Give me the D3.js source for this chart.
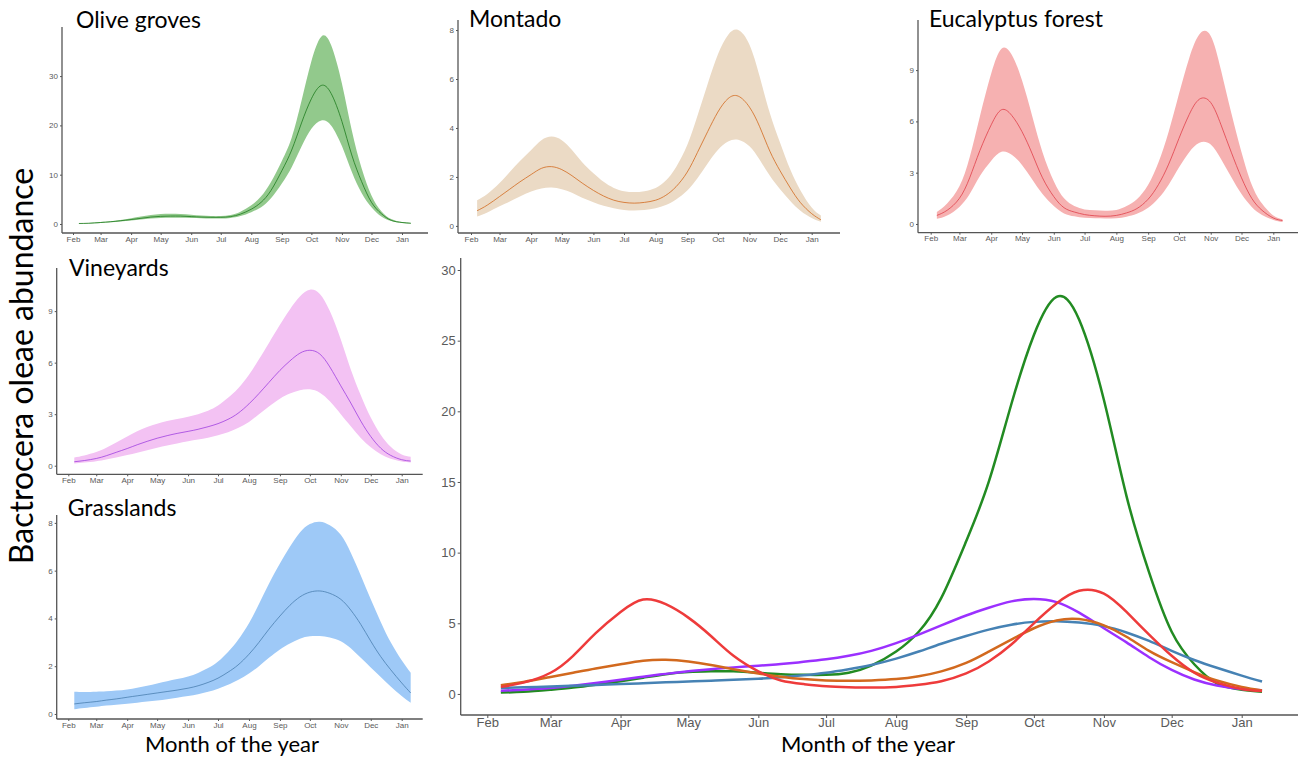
<!DOCTYPE html>
<html>
<head>
<meta charset="utf-8">
<script src="https://cdn.jsdelivr.net/npm/d3@7"></script>
<style>
  body { margin: 0; background: #fff; }
  svg { display: block; }
</style>
</head>
<body>
<div id="chart"></div>
<script>
// sample dates of the fitted curves (Feb -> Jan)
const dates = ["2019-02-07","2019-02-17","2019-03-01","2019-03-11","2019-03-21","2019-04-01","2019-04-11","2019-04-21",
  "2019-05-01","2019-05-11","2019-05-21","2019-06-01","2019-06-11","2019-06-21","2019-07-01","2019-07-11","2019-07-21",
  "2019-08-01","2019-08-11","2019-08-21","2019-09-01","2019-09-11","2019-09-21","2019-10-01","2019-10-11","2019-10-21",
  "2019-11-01","2019-11-11","2019-11-21","2019-12-01","2019-12-11","2019-12-21","2020-01-01","2020-01-10"];

const oliveMean = [0.1,0.15,0.3,0.45,0.65,0.9,1.15,1.4,1.55,1.6,1.6,1.5,1.4,1.35,1.35,1.5,2.0,3.0,4.4,6.8,10.8,15.0,20.5,25.4,28.1,26.5,20.8,14.0,8.6,4.4,2.1,0.75,0.3,0.15];
const oliveHigh = [0.15,0.2,0.38,0.55,0.8,1.15,1.5,1.8,2.0,2.05,2.0,1.85,1.7,1.6,1.6,1.8,2.5,3.8,5.6,8.5,12.8,17.5,25.0,33.0,38.0,36.3,28.5,19.0,11.3,5.8,2.6,1.0,0.4,0.2];
const oliveLow = [0.05,0.1,0.22,0.35,0.5,0.7,0.9,1.1,1.2,1.25,1.25,1.2,1.15,1.1,1.1,1.22,1.6,2.4,3.4,5.2,8.2,11.5,15.7,19.3,21.0,20.0,15.8,10.6,6.3,3.4,1.5,0.6,0.22,0.1];

const montadoMean = [0.62,0.85,1.2,1.5,1.8,2.1,2.35,2.42,2.3,2.05,1.75,1.45,1.22,1.05,0.96,0.93,0.96,1.05,1.25,1.6,2.2,3.0,3.85,4.65,5.2,5.3,4.85,4.05,3.05,2.25,1.55,0.95,0.5,0.25];
const montadoHigh = [1.05,1.3,1.75,2.2,2.65,3.1,3.5,3.65,3.5,3.1,2.6,2.15,1.8,1.55,1.42,1.38,1.42,1.55,1.85,2.4,3.3,4.5,5.8,7.0,7.8,8.0,7.4,6.1,4.6,3.4,2.3,1.45,0.75,0.42];
const montadoLow = [0.38,0.55,0.8,1.0,1.2,1.4,1.53,1.57,1.5,1.35,1.15,0.97,0.82,0.72,0.65,0.63,0.65,0.72,0.85,1.08,1.45,1.95,2.55,3.1,3.45,3.52,3.25,2.7,2.05,1.5,1.02,0.62,0.32,0.17];

const eucMean = [0.5,0.8,1.5,2.7,4.3,5.8,6.68,6.35,5.4,4.1,2.7,1.6,0.95,0.7,0.55,0.48,0.45,0.5,0.65,0.9,1.45,2.3,3.5,5.0,6.4,7.3,7.1,5.8,4.2,2.7,1.5,0.8,0.35,0.2];
const eucHigh = [0.7,1.2,2.2,3.9,6.3,8.8,10.25,9.9,8.4,6.3,4.2,2.5,1.5,1.05,0.85,0.8,0.78,0.82,1.05,1.45,2.3,3.6,5.4,7.6,9.7,11.1,11.0,9.0,6.5,4.2,2.3,1.2,0.5,0.28];
const eucLow = [0.3,0.5,1.0,1.75,2.8,3.7,4.22,4.05,3.45,2.6,1.75,1.05,0.62,0.45,0.36,0.33,0.32,0.34,0.43,0.6,0.95,1.5,2.3,3.3,4.2,4.75,4.65,3.8,2.75,1.75,1.0,0.53,0.24,0.12];

const vineMean = [0.23,0.3,0.42,0.58,0.78,1.0,1.22,1.42,1.6,1.75,1.88,2.0,2.12,2.27,2.45,2.7,3.05,3.6,4.2,4.85,5.55,6.1,6.55,6.72,6.5,5.75,4.65,3.65,2.6,1.7,1.02,0.6,0.35,0.27];
const vineHigh = [0.48,0.6,0.8,1.05,1.35,1.7,2.0,2.25,2.45,2.6,2.72,2.85,3.0,3.2,3.5,3.95,4.5,5.3,6.2,7.15,8.2,9.1,9.85,10.25,10.0,9.0,7.35,5.6,4.1,2.8,1.8,1.1,0.65,0.52];
const vineLow = [0.13,0.18,0.26,0.36,0.48,0.62,0.76,0.9,1.05,1.18,1.3,1.42,1.52,1.63,1.78,1.95,2.2,2.55,3.0,3.45,3.9,4.2,4.4,4.45,4.25,3.75,3.0,2.3,1.62,1.07,0.66,0.4,0.24,0.18];

const grassMean = [0.42,0.47,0.52,0.58,0.63,0.7,0.76,0.82,0.88,0.94,1.0,1.08,1.18,1.32,1.5,1.75,2.05,2.5,3.0,3.55,4.1,4.55,4.9,5.1,5.15,5.05,4.8,4.35,3.75,3.05,2.4,1.85,1.3,0.88];
const grassHigh = [0.93,0.92,0.93,0.95,0.98,1.03,1.1,1.18,1.28,1.37,1.46,1.57,1.72,1.92,2.2,2.6,3.1,3.8,4.6,5.45,6.3,7.0,7.6,7.95,8.05,7.9,7.5,6.75,5.8,4.8,3.85,3.0,2.25,1.73];
const grassLow = [0.2,0.25,0.3,0.35,0.39,0.43,0.47,0.52,0.56,0.62,0.68,0.75,0.83,0.93,1.06,1.22,1.42,1.7,2.0,2.35,2.7,2.95,3.15,3.25,3.26,3.2,3.05,2.75,2.35,1.95,1.55,1.15,0.75,0.47];

const parse = d3.timeParse("%Y-%m-%d");
const days = dates.map(parse);
const monthTicks = d3.timeMonth.range(new Date(2019, 1, 1), new Date(2020, 0, 2));

const habitats = [
  { name: "Olive groves", mean: oliveMean, low: oliveLow, high: oliveHigh, band: "#92c98c", line: "#1e7b1e", strong: "#228b22" },
  { name: "Montado", mean: montadoMean, low: montadoLow, high: montadoHigh, band: "#ebdac5", line: "#d2691e", strong: "#d2691e" },
  { name: "Eucalyptus forest", mean: eucMean, low: eucLow, high: eucHigh, band: "#f6b1b1", line: "#e0404a", strong: "#ee3b3b" },
  { name: "Vineyards", mean: vineMean, low: vineLow, high: vineHigh, band: "#f3c2f3", line: "#a040e0", strong: "#9b30ff" },
  { name: "Grasslands", mean: grassMean, low: grassLow, high: grassHigh, band: "#9ec9f7", line: "#4a7fb0", strong: "#4682b4" }
];

// panel frames: axis lines, month positions, y domain
const panels = [
  { left: 62, right: 428, top: 27, bottom: 233, feb: 73, jan: 402, y: [-1.83, 39.96], ticks: [0, 10, 20, 30], tx: 76, ty: 28 },
  { left: 458, right: 840, top: 20, bottom: 233, feb: 471, jan: 811.7, y: [-0.29, 8.41], ticks: [0, 2, 4, 6, 8], tx: 469, ty: 27 },
  { left: 918, right: 1298, top: 20, bottom: 232.7, feb: 930.7, jan: 1273.3, y: [-0.51, 11.93], ticks: [0, 3, 6, 9], tx: 929, ty: 27 },
  { left: 56.7, right: 422.7, top: 268, bottom: 474.3, feb: 68.3, jan: 401.7, y: [-0.5, 11.51], ticks: [0, 3, 6, 9], tx: 69, ty: 276 },
  { left: 56.7, right: 422.7, top: 515, bottom: 719, feb: 68.3, jan: 401.7, y: [-0.21, 8.33], ticks: [0, 2, 4, 6, 8], tx: 67.7, ty: 516 }
];
const big = { left: 460.7, right: 1298, top: 258, bottom: 715, feb: 487.3, jan: 1241.7, y: [-1.49, 30.85], ticks: [0, 5, 10, 15, 20, 25, 30] };

const svg = d3.select("#chart").append("svg").attr("width", 1301).attr("height", 757);

function frame(p, tickLen, pad, fontSize) {
  const x = d3.scaleTime().domain([new Date(2019, 1, 1), new Date(2020, 0, 1)]).range([p.feb, p.jan]);
  const y = d3.scaleLinear().domain(p.y).range([p.bottom, p.top]);
  const g = svg.append("g");

  const xa = g.append("g").attr("transform", `translate(0,${p.bottom})`)
    .call(d3.axisBottom(x).tickValues(monthTicks).tickFormat(d3.timeFormat("%b")).tickSize(tickLen).tickPadding(pad));
  const ya = g.append("g").attr("transform", `translate(${p.left},0)`)
    .call(d3.axisLeft(y).tickValues(p.ticks).tickSize(tickLen).tickPadding(2));
  [xa, ya].forEach(a => {
    a.select(".domain").remove();
    a.selectAll(".tick line").attr("stroke", "#555");
    a.selectAll("text").attr("fill", "#5a5a5a").style("font-family", "Liberation Sans, Arial, sans-serif").style("font-size", fontSize + "px");
  });
  g.append("line").attr("x1", p.left).attr("x2", p.right).attr("y1", p.bottom).attr("y2", p.bottom)
    .attr("stroke", "#555").attr("stroke-width", 1.3);
  g.append("line").attr("x1", p.left).attr("x2", p.left).attr("y1", p.top).attr("y2", p.bottom)
    .attr("stroke", "#555").attr("stroke-width", 1.3);
  return { x, y, g };
}

const curve = d3.curveNatural;

habitats.forEach((h, i) => {
  const p = panels[i];
  const { x, y, g } = frame(p, 2, 1, 8);
  const pts = days.map((d, j) => ({ d, m: h.mean[j], lo: h.low[j], hi: h.high[j] }));
  g.insert("path", ":first-child").datum(pts)
    .attr("fill", h.band)
    .attr("d", d3.area().curve(curve).x(d => x(d.d)).y0(d => y(d.lo)).y1(d => y(d.hi)));
  g.append("path").datum(pts)
    .attr("fill", "none").attr("stroke", h.line).attr("stroke-width", 0.8)
    .attr("d", d3.line().curve(curve).x(d => x(d.d)).y(d => y(d.m)));
  svg.append("text").attr("x", p.tx).attr("y", p.ty)
    .style("font-family", "Lato, Open Sans, sans-serif").style("font-size", "23px")
    .text(h.name);
});

// combined panel
{
  const { x, y, g } = frame(big, 3, 0, 13);
  const order = [0, 3, 4, 1, 2];
  order.forEach(i => {
    const h = habitats[i];
    g.append("path").datum(days.map((d, j) => ({ d, m: h.mean[j] })))
      .attr("fill", "none").attr("stroke", h.strong).attr("stroke-width", 2.5)
      .attr("d", d3.line().curve(curve).x(d => x(d.d)).y(d => y(d.m)));
  });
}

const labelFont = "Lato, Open Sans, sans-serif";
svg.append("text").attr("x", 232).attr("y", 752).attr("text-anchor", "middle")
  .style("font-family", labelFont).style("font-size", "22px").text("Month of the year");
svg.append("text").attr("x", 868).attr("y", 752).attr("text-anchor", "middle")
  .style("font-family", labelFont).style("font-size", "22px").text("Month of the year");
svg.append("text").attr("transform", "translate(33,366) rotate(-90)").attr("text-anchor", "middle")
  .style("font-family", labelFont).style("font-size", "32px").text("Bactrocera oleae abundance");
</script>
</body>
</html>
